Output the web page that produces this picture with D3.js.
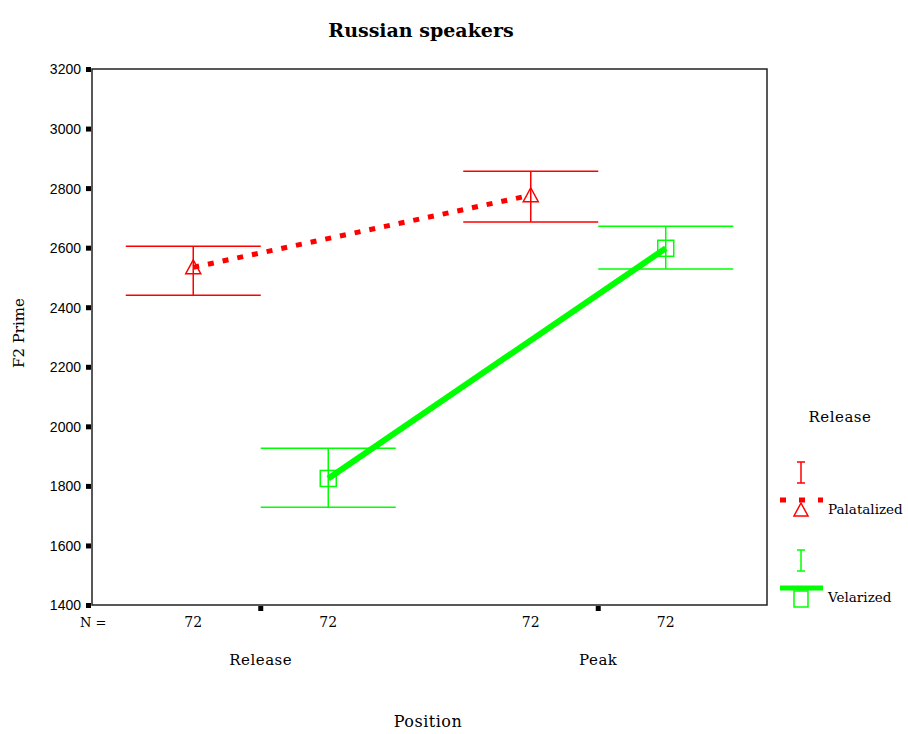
<!DOCTYPE html>
<html>
<head>
<meta charset="utf-8">
<script src="https://cdn.jsdelivr.net/npm/d3@7"></script>
<style>
  body { margin: 0; background: #fff; }
  .serif { font-family: "DejaVu Serif", "Liberation Serif", serif; }
  .sans { font-family: "Liberation Sans", Arial, sans-serif; }
</style>
</head>
<body>
<div id="chart"></div>
<script>
// data
const positions = ['Release', 'Peak'];
const groups = ['Palatalized', 'Velarized'];
const palMean = [2534, 2776];
const palLow = [2440, 2686];
const palHigh = [2605, 2857];
const velMean = [1825, 2598];
const velLow = [1728, 2528];
const velHigh = [1926, 2672];
const palN = [72, 72];
const velN = [72, 72];
const yTicks = [1400, 1600, 1800, 2000, 2200, 2400, 2600, 2800, 3000, 3200];

const width = 908, height = 734;
const margin = { top: 69, right: 141, bottom: 129, left: 92 };
const plotW = width - margin.left - margin.right;
const plotH = height - margin.top - margin.bottom;

const red = '#ff0000', green = '#00ff00';

const svg = d3.select('#chart').append('svg')
    .attr('width', width)
    .attr('height', height);

const graph = svg.append('g')
    .attr('transform', `translate(${margin.left}, ${margin.top})`);

// scales
const x = d3.scaleBand().domain(positions).range([0, plotW]);
const inner = d3.scalePoint().domain(groups).range([0, x.bandwidth()]).padding(0.75);
const y = d3.scaleLinear().domain([1400, 3200]).range([plotH, 0]);

// frame
graph.append('rect')
    .attr('width', plotW)
    .attr('height', plotH)
    .attr('fill', 'none')
    .attr('stroke', '#222')
    .attr('stroke-width', 1.5);

// y axis
const yAxis = d3.axisLeft(y).tickValues(yTicks).tickFormat(d3.format('d')).tickSize(5).tickPadding(6);
const yAxisGroup = graph.append('g').call(yAxis);
yAxisGroup.select('.domain').remove();
yAxisGroup.selectAll('.tick line').attr('stroke', '#000').attr('stroke-width', 5).attr('x2', -6).attr('x1', -1);
yAxisGroup.selectAll('.tick text')
    .attr('class', 'sans')
    .attr('font-size', 14)
    .attr('fill', '#000')
    .attr('dy', '0.35em');

// x axis
const xAxis = d3.axisBottom(x).tickSize(5).tickPadding(44);
const xAxisGroup = graph.append('g')
    .attr('transform', `translate(0, ${plotH})`)
    .call(xAxis);
xAxisGroup.select('.domain').remove();
xAxisGroup.selectAll('.tick line').attr('stroke', '#000').attr('stroke-width', 5).attr('y1', 1).attr('y2', 6);
xAxisGroup.selectAll('.tick text')
    .attr('class', 'serif')
    .attr('font-size', 15)
    .attr('letter-spacing', 0.5)
    .attr('fill', '#000');

// N row
const series = [
    { name: 'Palatalized', mean: palMean, low: palLow, high: palHigh, n: palN, color: red },
    { name: 'Velarized', mean: velMean, low: velLow, high: velHigh, n: velN, color: green }
];

graph.append('text')
    .attr('class', 'serif')
    .attr('x', -12)
    .attr('y', plotH + 22)
    .attr('font-size', 13)
    .text('N =');

const px = (s, i) => x(positions[i]) + inner(s.name);
const cap = inner.step() / 2;

series.forEach(s => {
    positions.forEach((p, i) => {
        graph.append('text')
            .attr('class', 'serif')
            .attr('x', px(s, i))
            .attr('y', plotH + 22)
            .attr('font-size', 14)
            .attr('text-anchor', 'middle')
            .text(s.n[i]);
    });
});

// error bars
series.forEach(s => {
    const g = graph.append('g').attr('stroke', s.color).attr('stroke-width', 1.5).attr('fill', 'none');
    positions.forEach((p, i) => {
        const cx = px(s, i);
        g.append('line').attr('x1', cx).attr('x2', cx).attr('y1', y(s.low[i])).attr('y2', y(s.high[i]));
        g.append('line').attr('x1', cx - cap).attr('x2', cx + cap).attr('y1', y(s.low[i])).attr('y2', y(s.low[i]));
        g.append('line').attr('x1', cx - cap).attr('x2', cx + cap).attr('y1', y(s.high[i])).attr('y2', y(s.high[i]));
    });
});

// mean lines
const line = d3.line().x(d => d[0]).y(d => d[1]);
series.forEach((s, k) => {
    const pts = positions.map((p, i) => [px(s, i), y(s.mean[i])]);
    graph.append('path')
        .attr('d', line(pts))
        .attr('fill', 'none')
        .attr('stroke', s.color)
        .attr('stroke-width', k === 0 ? 5 : 6)
        .attr('stroke-dasharray', k === 0 ? '6,9' : null);
});

// markers
const triangle = (cx, cy, r) => `M${cx},${cy - r}L${cx + r},${cy + r * 0.85}L${cx - r},${cy + r * 0.85}Z`;
positions.forEach((p, i) => {
    graph.append('path')
        .attr('d', triangle(px(series[0], i), y(palMean[i]), 7.5))
        .attr('fill', 'none')
        .attr('stroke', red)
        .attr('stroke-width', 1.5);
    graph.append('rect')
        .attr('x', px(series[1], i) - 8)
        .attr('y', y(velMean[i]) - 8)
        .attr('width', 16)
        .attr('height', 16)
        .attr('fill', 'none')
        .attr('stroke', green)
        .attr('stroke-width', 1.5);
});

// titles
svg.append('text')
    .attr('class', 'serif')
    .attr('x', 421)
    .attr('y', 37)
    .attr('text-anchor', 'middle')
    .attr('font-size', 19)
    .attr('font-weight', 'bold')
    .text('Russian speakers');

svg.append('text')
    .attr('class', 'serif')
    .attr('x', 428)
    .attr('y', 727)
    .attr('text-anchor', 'middle')
    .attr('font-size', 16)
    .attr('letter-spacing', 0.5)
    .text('Position');

svg.append('text')
    .attr('class', 'serif')
    .attr('transform', `translate(24, ${margin.top + plotH / 2 - 4}) rotate(-90)`)
    .attr('text-anchor', 'middle')
    .attr('font-size', 15)
    .text('F2 Prime');

// legend
const legend = svg.append('g');
legend.append('text')
    .attr('class', 'serif')
    .attr('x', 840)
    .attr('y', 422)
    .attr('text-anchor', 'middle')
    .attr('font-size', 15)
    .attr('letter-spacing', 0.5)
    .text('Release');

const legendRows = [
    { s: series[0], top: 462 },
    { s: series[1], top: 550 }
];
legendRows.forEach((r, k) => {
    const cx = 801;
    const g = legend.append('g').attr('stroke', r.s.color).attr('fill', 'none').attr('stroke-width', 1.5);
    g.append('line').attr('x1', cx).attr('x2', cx).attr('y1', r.top).attr('y2', r.top + 21);
    g.append('line').attr('x1', cx - 4).attr('x2', cx + 4).attr('y1', r.top).attr('y2', r.top);
    g.append('line').attr('x1', cx - 4).attr('x2', cx + 4).attr('y1', r.top + 21).attr('y2', r.top + 21);
    const ly = r.top + 38;
    legend.append('line')
        .attr('x1', 780).attr('x2', 823)
        .attr('y1', ly).attr('y2', ly)
        .attr('stroke', r.s.color)
        .attr('stroke-width', 5)
        .attr('stroke-dasharray', k === 0 ? '6,13' : null);
    if (k === 0) {
        g.append('path').attr('d', triangle(cx, ly + 10, 7));
    } else {
        g.append('rect').attr('x', cx - 7).attr('y', ly + 3).attr('width', 14).attr('height', 16);
    }
    legend.append('text')
        .attr('class', 'serif')
        .attr('x', 828)
        .attr('y', ly + 14)
        .attr('font-size', 13.5)
        .text(r.s.name);
});
</script>
</body>
</html>
